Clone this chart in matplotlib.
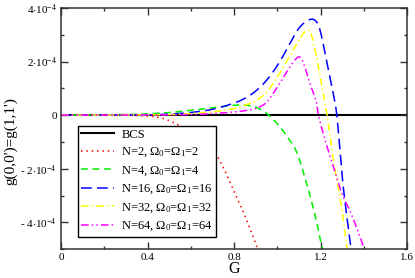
import numpy as np
import matplotlib
matplotlib.use("Agg")
import matplotlib.pyplot as plt
from matplotlib.ticker import FixedLocator, MultipleLocator

plt.rcParams['font.family'] = ['Liberation Serif', 'DejaVu Serif']
plt.rcParams['mathtext.fontset'] = 'custom'
plt.rcParams['mathtext.rm'] = 'Liberation Serif'
plt.rcParams['mathtext.it'] = 'Liberation Serif:italic'

# data (y values in units of 1e-4)
g_bcs = [0.0, 1.6]
y_bcs = [0.0, 0.0]

g_n2 = [0, 0.3, 0.35, 0.4, 0.45, 0.5, 0.55, 0.6, 0.65, 0.7, 0.75, 0.8, 0.85, 0.9, 0.92]
y_n2 = [0, 0, -0.01, -0.03, -0.08, -0.2, -0.4, -0.62, -0.9, -1.25, -1.95, -2.85, -3.75, -4.8, -5.2]

g_n4 = [0, 0.3, 0.4, 0.5, 0.6, 0.7, 0.8, 0.85, 0.9, 0.95, 1.0, 1.05, 1.08, 1.1, 1.13, 1.15, 1.18, 1.2, 1.22]
y_n4 = [0, 0.02, 0.05, 0.1, 0.18, 0.28, 0.37, 0.38, 0.3, 0.07, -0.32, -0.85, -1.22, -1.6, -2.4, -2.97, -3.92, -4.7, -5.3]

g_n16 = [0, 0.4, 0.5, 0.6, 0.7, 0.8, 0.85, 0.9, 0.95, 1.0, 1.05, 1.1, 1.15, 1.18, 1.2, 1.236, 1.255, 1.275, 1.3, 1.32, 1.34, 1.36]
y_n16 = [0, 0.01, 0.04, 0.1, 0.22, 0.45, 0.63, 0.9, 1.3, 1.85, 2.55, 3.25, 3.57, 3.5, 3.1, 1.68, 0.95, 0.0, -2.3, -3.7, -4.9, -6.2]

g_n32 = [0, 0.5, 0.6, 0.7, 0.8, 0.85, 0.9, 0.95, 1.0, 1.05, 1.1, 1.135, 1.155, 1.175, 1.2, 1.23, 1.26, 1.3, 1.32, 1.34]
y_n32 = [0, 0.02, 0.06, 0.12, 0.25, 0.37, 0.54, 0.85, 1.42, 2.1, 2.8, 3.17, 3.05, 2.43, 1.35, 0.0, -1.7, -3.6, -4.85, -6.0]

g_n64 = [0, 0.6, 0.7, 0.8, 0.85, 0.9, 0.95, 1.0, 1.05, 1.08, 1.105, 1.125, 1.15, 1.18, 1.19, 1.22, 1.26, 1.3, 1.34, 1.4, 1.42]
y_n64 = [0, 0.02, 0.06, 0.12, 0.17, 0.25, 0.48, 1.05, 1.7, 2.05, 2.17, 1.85, 1.2, 0.5, 0.0, -0.9, -1.95, -2.95, -3.65, -4.95, -5.5]

labels = ["BCS",
          r"N=2, $\Omega_0$=$\Omega_1$=2",
          r"N=4, $\Omega_0$=$\Omega_1$=4",
          r"N=16, $\Omega_0$=$\Omega_1$=16",
          r"N=32, $\Omega_0$=$\Omega_1$=32",
          r"N=64, $\Omega_0$=$\Omega_1$=64"]

x_ticks = [0, 0.4, 0.8, 1.2, 1.6]
x_ticklabels = ["0", "0.4", "0.8", "1.2", "1.6"]
y_ticks = [-4, -2, 0, 2, 4]
y_ticklabels = [r"- 4$\cdot$10$^{-4}$", r"- 2$\cdot$10$^{-4}$", "0",
                r"2$\cdot$10$^{-4}$", r"4$\cdot$10$^{-4}$"]

def smooth(gx, gy, n=400):
    gx = np.asarray(gx, float); gy = np.asarray(gy, float)
    xs = np.linspace(gx[0], gx[-1], n)
    m = np.zeros_like(gy)
    m[1:-1] = (gy[2:] - gy[:-2]) / (gx[2:] - gx[:-2])
    m[0] = (gy[1] - gy[0]) / (gx[1] - gx[0])
    m[-1] = (gy[-1] - gy[-2]) / (gx[-1] - gx[-2])
    idx = np.clip(np.searchsorted(gx, xs) - 1, 0, len(gx) - 2)
    h = gx[idx + 1] - gx[idx]
    t = (xs - gx[idx]) / h
    h00 = 2*t**3 - 3*t**2 + 1; h10 = t**3 - 2*t**2 + t
    h01 = -2*t**3 + 3*t**2; h11 = t**3 - t**2
    ys = h00*gy[idx] + h10*h*m[idx] + h01*gy[idx+1] + h11*h*m[idx+1]
    return xs, ys * 1e-4

fig = plt.figure(figsize=(4.15, 2.78), dpi=100)
ax = fig.add_axes([0.147, 0.104, 0.834, 0.867])

ax.plot(g_bcs, np.array(y_bcs) * 1e-4, color='black', lw=1.5, label=labels[0], zorder=1)
x, y = smooth(g_n2, y_n2)
ax.plot(x, y, color='red', lw=1.1, ls=(0, (1, 2.5)), label=labels[1])
x, y = smooth(g_n4, y_n4)
ax.plot(x, y, color='#00ee00', lw=1.1, ls=(0, (4.5, 3)), label=labels[2])
x, y = smooth(g_n16, y_n16)
ax.plot(x, y, color='#0000ff', lw=1.1, ls=(0, (7, 3.5)), label=labels[3])
x, y = smooth(g_n32, y_n32)
ax.plot(x, y, color='#ffff00', lw=1.1, ls=(0, (5, 2, 1, 2)), label=labels[4])
x, y = smooth(g_n64, y_n64)
ax.plot(x, y, color='#ff00ff', lw=1.1, ls=(0, (5, 2, 1, 2, 1, 2)), label=labels[5])

ax.set_xlim(0, 1.6)
ax.set_ylim(-5e-4, 4e-4)
ax.xaxis.set_major_locator(FixedLocator(x_ticks))
ax.xaxis.set_minor_locator(MultipleLocator(0.2))
ax.set_xticklabels(x_ticklabels)
ax.yaxis.set_major_locator(FixedLocator([v * 1e-4 for v in y_ticks]))
ax.yaxis.set_minor_locator(MultipleLocator(1e-4))
ax.set_yticklabels(y_ticklabels)
ax.tick_params(which='both', direction='in', top=True, right=True, labelsize=8, width=1,
               color='#333333', pad=3)
ax.tick_params(which='major', length=5)
ax.tick_params(which='minor', length=2.5)
for s in ax.spines.values():
    s.set_linewidth(1.1)
    s.set_color('#333333')

ax.set_xlabel("G", fontsize=11.5, labelpad=-1)
ax.set_ylabel("g(0,0')=g(1,1')", fontsize=11, labelpad=2)
ax.yaxis.set_label_coords(-0.125, 0.448)

leg = ax.legend(loc='lower left', bbox_to_anchor=(0.05, 0.052), fontsize=9,
                frameon=True, fancybox=False, framealpha=1, edgecolor='black',
                handlelength=2.6, handletextpad=0.6, labelspacing=0.4,
                borderpad=0.25, borderaxespad=0)
leg.get_frame().set_linewidth(1.0)

fig.savefig("out.png", dpi=100)
